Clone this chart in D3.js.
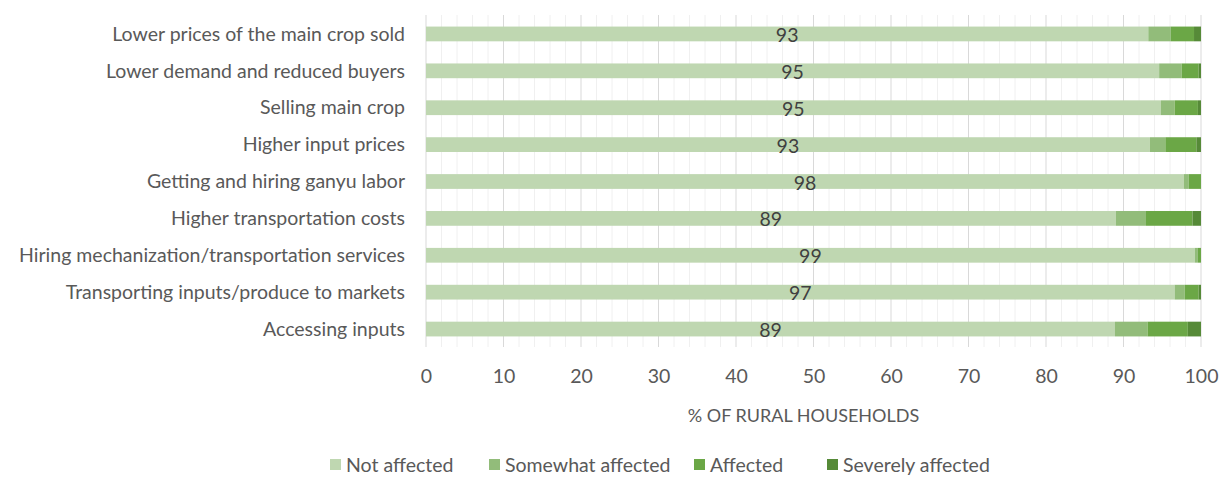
<!DOCTYPE html>
<html>
<head>
<meta charset="utf-8">
<script src="https://cdn.jsdelivr.net/npm/d3@7"></script>
<style>
  html, body { margin: 0; padding: 0; background: #fff; }
  svg { display: block; font-family: Lato, "Open Sans", sans-serif; }
</style>
</head>
<body>
<svg id="chart" width="1219" height="478"></svg>
<script>
// Constraints faced by rural households, share of households by severity
const categories = [
  "Lower prices of the main crop sold",
  "Lower demand and reduced buyers ",
  "Selling main crop",
  "Higher input prices",
  "Getting and hiring ganyu labor",
  "Higher transportation costs",
  "Hiring mechanization/transportation services",
  "Transporting inputs/produce to markets",
  "Accessing inputs"
];
const seriesNames = ["Not affected", "Somewhat affected", "Affected", "Severely affected"];
const notAffected      = [93.2, 94.6, 94.8, 93.4, 97.8, 89.0, 99.2, 96.6, 88.9];
const somewhatAffected = [2.9, 2.9, 1.8, 2.0, 0.6, 3.9, 0.4, 1.3, 4.2];
const affected         = [3.0, 2.2, 3.0, 4.0, 1.6, 6.0, 0.4, 1.8, 5.2];
const severelyAffected = [0.9, 0.3, 0.4, 0.6, 0.0, 1.1, 0.0, 0.3, 1.7];
const xTicks = [0, 10, 20, 30, 40, 50, 60, 70, 80, 90, 100];
const xTitle = "% OF RURAL HOUSEHOLDS";

const colors = ["#bfd7b1", "#92bc7a", "#6ba746", "#568a38"];
const textColor = "#595959";
const fontSize = 19.5;

const svg = d3.select("#chart");
const margin = { left: 426, right: 18, top: 15, bottom: 131 };
const W = 1219, H = 478;

const x = d3.scaleLinear().domain([0, 100]).range([margin.left, W - margin.right]);
const y = d3.scaleBand().domain(categories).range([margin.top, H - margin.bottom]).paddingInner(0.6).paddingOuter(0.3);

// gridlines: minor every 2, major every 10
const minor = d3.range(2, 101, 2).filter(v => v % 10 !== 0);
svg.append("g").selectAll("line").data(minor).join("line")
  .attr("x1", d => x(d)).attr("x2", d => x(d))
  .attr("y1", margin.top).attr("y2", H - margin.bottom)
  .attr("stroke", "#f0f0f0").attr("stroke-width", 1);
svg.append("g").selectAll("line").data(xTicks).join("line")
  .attr("x1", d => x(d)).attr("x2", d => x(d))
  .attr("y1", margin.top).attr("y2", H - margin.bottom)
  .attr("stroke", "#d9d9d9").attr("stroke-width", 1);

// stacked bars
const rows = categories.map((c, i) => ({
  cat: c,
  "Not affected": notAffected[i],
  "Somewhat affected": somewhatAffected[i],
  "Affected": affected[i],
  "Severely affected": severelyAffected[i]
}));
const stack = d3.stack().keys(seriesNames)(rows);
const color = d3.scaleOrdinal().domain(seriesNames).range(colors);

svg.append("g").selectAll("g").data(stack).join("g")
  .attr("fill", d => color(d.key))
  .selectAll("rect").data(d => d).join("rect")
  .attr("x", d => x(d[0]))
  .attr("width", d => Math.max(0, x(d[1]) - x(d[0])))
  .attr("y", d => y(d.data.cat) + 0.5)
  .attr("height", y.bandwidth());

// value labels centred in the "Not affected" segment
svg.append("g").selectAll("text").data(rows).join("text")
  .attr("x", d => x(d["Not affected"] / 2))
  .attr("y", d => y(d.cat) + y.bandwidth() / 2 + 1.5)
  .attr("dy", "0.36em")
  .attr("text-anchor", "middle")
  .attr("font-size", fontSize)
  .attr("fill", "#404040")
  .text(d => d3.format(".0f")(d["Not affected"]));

// category labels
const yAxis = svg.append("g")
  .attr("transform", `translate(${margin.left},1)`)
  .call(d3.axisLeft(y).tickSize(0).tickPadding(21));
yAxis.select(".domain").remove();
yAxis.selectAll("text").attr("font-size", fontSize).attr("fill", textColor)
  .attr("font-family", "Lato, 'Open Sans', sans-serif");

// x axis tick labels
const xAxis = svg.append("g")
  .attr("transform", `translate(0,${H - margin.bottom})`)
  .call(d3.axisBottom(x).tickValues(xTicks).tickSize(0).tickPadding(22));
xAxis.select(".domain").remove();
xAxis.selectAll("text").attr("font-size", fontSize).attr("fill", textColor)
  .attr("font-family", "Lato, 'Open Sans', sans-serif");

// axis title
svg.append("text")
  .attr("x", x(50) - 10).attr("y", 422)
  .attr("text-anchor", "middle")
  .attr("font-size", 18)
  .attr("fill", textColor)
  .text(xTitle);

// legend
const legendX = [330, 489, 694, 827];
const legend = svg.append("g").selectAll("g").data(seriesNames).join("g")
  .attr("transform", (d, i) => `translate(${legendX[i]},459)`);
legend.append("rect").attr("width", 11).attr("height", 11).attr("y", 0)
  .attr("fill", d => color(d));
legend.append("text").attr("x", 16).attr("y", 6).attr("dy", "0.36em")
  .attr("font-size", fontSize).attr("fill", textColor).text(d => d);
</script>
</body>
</html>
